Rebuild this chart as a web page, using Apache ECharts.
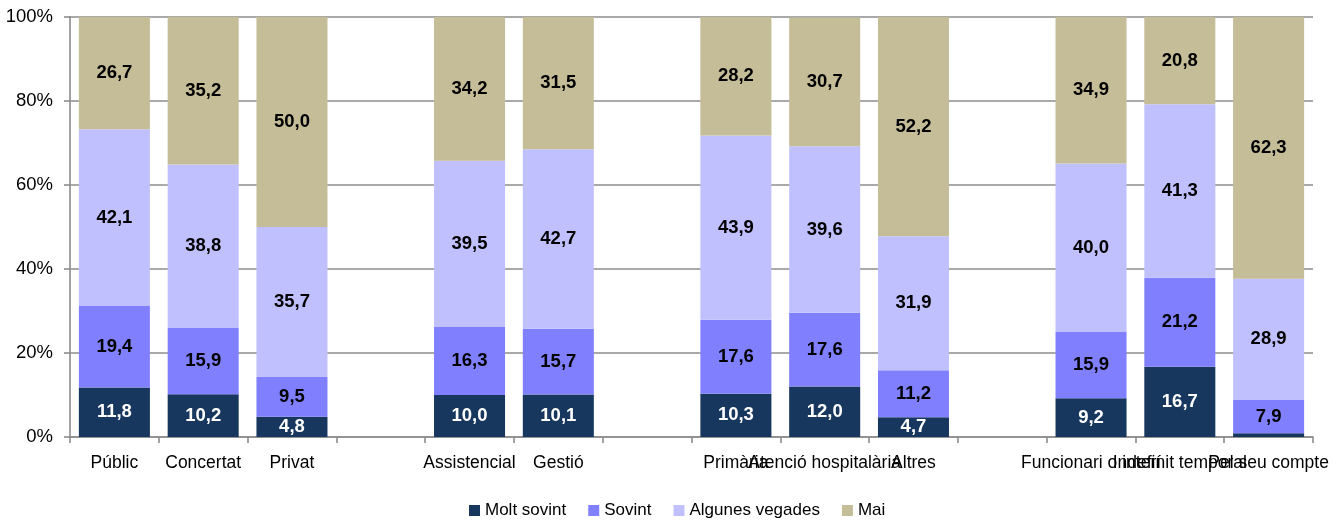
<!DOCTYPE html>
<html>
<head>
<meta charset="utf-8">
<script src="https://cdn.jsdelivr.net/npm/echarts@6/dist/echarts.min.js"></script>
<style>
  html, body { margin: 0; padding: 0; background: #fff; }
  #chart { width: 1344px; height: 527px; }
</style>
</head>
<body>
<div id="chart"></div>
<script>
// Categories; empty strings are spacer slots between groups
var categories = ['Públic', 'Concertat', 'Privat', '', 'Assistencial', 'Gestió', '',
  'Primària', 'Atenció hospitalària', 'Altres', '', 'Funcionari o interí', 'Indefinit temporal', 'Pel seu compte'];

var moltSovint     = [11.8, 10.2, 4.8, null, 10.0, 10.1, null, 10.3, 12.0, 4.7, null, 9.2, 16.7, 0.9];
var sovint         = [19.4, 15.9, 9.5, null, 16.3, 15.7, null, 17.6, 17.6, 11.2, null, 15.9, 21.2, 7.9];
var alguneVegades  = [42.1, 38.8, 35.7, null, 39.5, 42.7, null, 43.9, 39.6, 31.9, null, 40.0, 41.3, 28.9];
var mai            = [26.7, 35.2, 50.0, null, 34.2, 31.5, null, 28.2, 30.7, 52.2, null, 34.9, 20.8, 62.3];

var seriesNames = ['Molt sovint', 'Sovint', 'Algunes vegades', 'Mai'];
var seriesData = [moltSovint, sovint, alguneVegades, mai];
var colors = ['#17375E', '#8080FF', '#C0C0FF', '#C4BD97'];
var labelColors = ['#ffffff', '#000000', '#000000', '#000000'];

var FONT = '"Liberation Sans", Arial, sans-serif';

function fmt(p) {
  if (p.value == null || p.value < 2) return '';
  return p.value.toFixed(1).replace('.', ',');
}

var chart = echarts.init(document.getElementById('chart'));
chart.setOption({
  animation: false,
  grid: { left: 70, right: 31, top: 17, bottom: 90 },
  legend: {
    bottom: 3,
    left: 464,
    itemWidth: 11,
    itemHeight: 11,
    itemGap: 22,
    icon: 'rect',
    textStyle: { fontFamily: FONT, fontSize: 17, color: '#000' },
    data: seriesNames
  },
  xAxis: {
    type: 'category',
    data: categories,
    axisLine: { lineStyle: { color: '#8c8c8c', width: 1.6 } },
    axisTick: { show: true, interval: 0, length: 6, lineStyle: { color: '#8c8c8c', width: 1.6 } },
    axisLabel: { interval: 0, hideOverlap: false, margin: 17, fontFamily: FONT, fontSize: 17.5, color: '#000' }
  },
  yAxis: {
    type: 'value',
    min: 0,
    max: 100,
    interval: 20,
    axisLine: { show: true, lineStyle: { color: '#8c8c8c', width: 1.6 } },
    axisTick: { show: true, length: 6, lineStyle: { color: '#8c8c8c', width: 1.6 } },
    splitLine: { lineStyle: { color: '#8c8c8c', width: 1.6 } },
    axisLabel: { formatter: '{value}%', margin: 17, fontFamily: FONT, fontSize: 18.5, color: '#000' }
  },
  series: seriesData.map(function (d, i) {
    return {
      name: seriesNames[i],
      type: 'bar',
      stack: 'total',
      data: d,
      barCategoryGap: '20%',
      itemStyle: { color: colors[i] },
      label: {
        show: true,
        position: 'inside',
        formatter: fmt,
        fontFamily: FONT,
        fontWeight: 'bold',
        fontSize: 18.5,
        color: labelColors[i]
      }
    };
  })
});
</script>
</body>
</html>
